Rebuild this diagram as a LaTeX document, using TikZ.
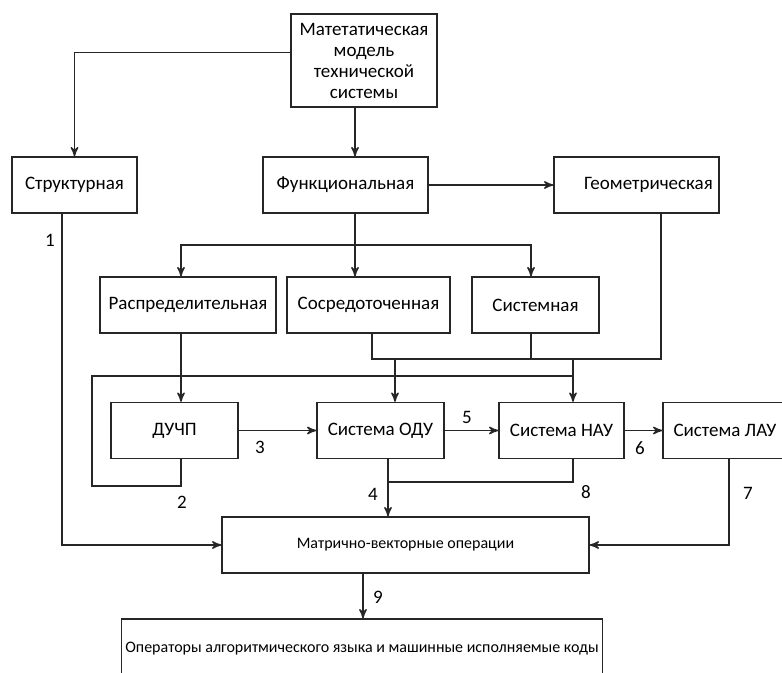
\documentclass[tikz,border=0pt]{standalone}
\usepackage{fontspec}
\setmainfont{Carlito}
\usetikzlibrary{arrows}
\tikzset{
  block/.style={
    % The shape:
    rectangle,
    % The size:
    minimum height=28pt,
    inner sep=2pt,
    % The border:
    draw=black!85,
    line width=0.7pt,
    % The text:
    font=\fontsize{9.5}{10.5}\selectfont,
    align=center},
  wide block/.style={
    block,
    font=\fontsize{8}{9.5}\selectfont},
  number/.style={
    font=\fontsize{9.5}{10.5}\selectfont,
    inner sep=0pt},
  point/.style={coordinate}
}

\begin{document}
\begin{tikzpicture}[x=0.5pt,y=-0.5pt,>=stealth',line width=0.7pt,draw=black!85,
                    tip/.style={->,shorten >=0.007pt}]
  \useasboundingbox (0,0) rectangle (782,673);

  % blocks
  \node (model)  [block,minimum width=73pt,minimum height=46.5pt] at (364,60.5)
    {Матетатическая\\модель\\технической\\системы};
  \node (struct) [block,minimum width=62.5pt] at (74.5,185) {Структурная};
  \node (func)   [block,minimum width=82.5pt] at (345.5,185) {Функциональная};
  \node (geom)   [block,minimum width=82.5pt] at (636.5,185) {\hspace{12pt}Геометрическая};
  \node (raspr)  [block,minimum width=88pt] at (188,305) {Распределительная};
  \node (sosr)   [block,minimum width=81.5pt] at (368.5,305) {Сосредоточенная};
  \node (sist)   [block,minimum width=63.5pt] at (535.5,305) {Системная};
  \node (duchp)  [block,minimum width=63.5pt] at (174.5,430.5) {ДУЧП};
  \node (ode)    [block,minimum width=63.5pt] at (380.5,430.5) {Система ОДУ};
  \node (nau)    [block,minimum width=62.5pt] at (561.5,430.5) {Система НАУ};
  \node (lau)    [block,minimum width=62pt] at (725,430.5) {Система ЛАУ};
  \node (matr)   [wide block,minimum width=183.5pt] at (405.5,545) {Матрично-векторные операции};
  \node (final)  [wide block,minimum width=237pt,minimum height=30pt] at (362,649)
    {Операторы алгоритмического языка и машинные исполняемые коды};

  % points
  \coordinate (p1)  at (355,245);
  \coordinate (p2)  at (181,245);
  \coordinate (p3)  at (531,245);
  \coordinate (p4)  at (372,359);
  \coordinate (p5)  at (661,359);
  \coordinate (p6)  at (395,359);
  \coordinate (p7)  at (573,359);
  \coordinate (p8)  at (92,376);
  \coordinate (p9)  at (92,486);
  \coordinate (p10) at (573,376);
  \coordinate (p11) at (388,482);
  \coordinate (p12) at (729,545);
  \coordinate (p13) at (62,545);
  \coordinate (p14) at (363,600);

  % connectors
  \draw[tip] ([yshift=4pt]model.west) -| (struct);
  \draw[tip] (model.south -| p1) -- (func.north -| p1);
  \draw[tip] (func) -- (geom);
  \draw (func.south -| p1) -- (p1);
  \draw[tip] (p1) -- (p2) -- (raspr.north -| p2);
  \draw[tip] (p1) -- (p3) -- (sist.north -| p3);
  \draw[tip] (p1) -- (sosr.north -| p1);
  \draw (sosr.south -| p4) -- (p4) -- (p5) -- (geom.south -| p5);
  \draw (sist.south -| p3) -- (p3 |- p4);
  \draw[tip] (p6) -- (ode.north -| p6);
  \draw[tip] (p7) -- (nau.north -| p7);
  \draw[tip] (raspr.south -| p2) -- (duchp.north -| p2);
  \draw (duchp.south -| p2) -- (p9 -| p2) -- (p9) -- (p8) -- (p10);
  \draw[tip] (duchp) -- (ode);
  \draw[tip] (ode) -- (nau);
  \draw[tip] (nau) -- (lau);
  \draw[tip] (ode.south -| p11) -- (matr.north -| p11);
  \draw (nau.south -| p10) -- (p11 -| p10) -- (p11);
  \draw[tip] (lau.south -| p12) |- (matr);
  \draw[tip] (struct.south -| p13) |- (matr);
  \draw[tip] (matr.south -| p14) -- (final.north -| p14);

  % numbers
  \node (n1) [number] at (50,240) {1};
  \node (n2) [number] at (182,502) {2};
  \node (n3) [number] at (260,447) {3};
  \node (n4) [number] at (373,494) {4};
  \node (n5) [number] at (467,417) {5};
  \node (n6) [number] at (640,448) {6};
  \node (n7) [number] at (748,493) {7};
  \node (n8) [number] at (586,492) {8};
  \node (n9) [number] at (378,597) {9};
\end{tikzpicture}
\end{document}
